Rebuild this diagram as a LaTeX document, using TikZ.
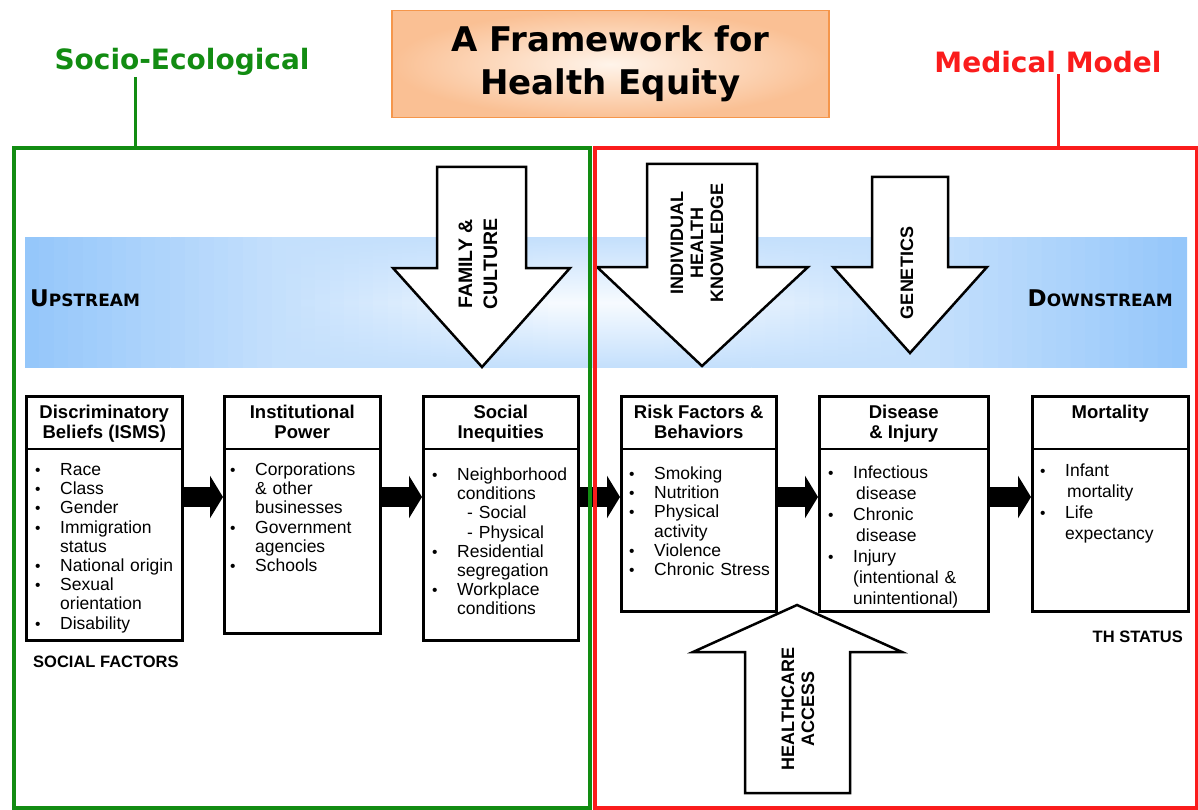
\documentclass[tikz,border=0pt]{standalone}
\usepackage{fontspec}
\setmainfont{Liberation Sans}
\newfontfamily\wideface{DejaVu Sans}
\usetikzlibrary{arrows.meta}

\definecolor{segreen}{RGB}{18,140,18}
\definecolor{mmred}{RGB}{250,28,28}
\definecolor{bandedge}{RGB}{148,198,250}
\definecolor{titleedge}{RGB}{250,192,148}
\definecolor{titlemid}{RGB}{255,244,234}
\definecolor{titleline}{RGB}{245,150,75}

% one bullet item in a box
\newcommand\itm{\par\noindent\hangindent=25pt\hangafter=1%
  \makebox[25pt][l]{\fontsize{15.5}{15}\selectfont\textbullet}}

\tikzset{ box/.style = { draw
                       , line width   = 2.5pt
                       , anchor       = north west
                       , inner sep    = 0pt
                       },
          head/.style = { anchor    = north
                        , inner sep = 0pt
                        , align     = center
                        , font      = \bfseries\fontsize{18.5}{19.5}\selectfont
                        },
          body/.style = { anchor     = north west
                        , inner sep  = 0pt
                        , text width = #1
                        , align      = left
                        , font       = \fontsize{17.5}{19.2}\selectfont
                        },
          flow/.style = { line width = 20pt
                        , -{Triangle[width=42pt, length=13pt]}
                        },
          bigarrow/.style = { draw
                            , line width = 2.5pt
                            , fill       = white
                            , line join  = miter
                            },
          arrowlbl/.style = { rotate    = 90
                            , inner sep = 0pt
                            , align     = center
                            , font      = \bfseries\fontsize{18}{20}\selectfont
                            },
          modellbl/.style = { inner sep = 1pt
                            , font      = \wideface\bfseries\fontsize{28}{30}\selectfont
                            },
          streamlbl/.style = { inner sep = 0pt
                             , font      = \wideface\bfseries
                             },
          frame/.style = { line width   = 4pt
                         , anchor       = north west
                         , inner sep    = 0pt
                         }
        }

\begin{document}
\begin{tikzpicture}[x=1pt, y=-1pt]
\useasboundingbox (0,0) rectangle (1198,810);

% title
\node[draw=titleline, line width=1.5pt, inner color=titlemid, outer color=titleedge,
      minimum width=437pt, minimum height=107pt, anchor=north west, align=center,
      font=\wideface\bfseries\fontsize{34}{43}\selectfont] (title) at (391,10)
      {A Framework for\\Health Equity};

\node[modellbl, text=segreen] (socio) at (182,62) {Socio-Ecological};
\node[modellbl, text=mmred] (medical) at (1048,62) {Medical Model};

% upstream / downstream band, blue at both ends and along its edges
\foreach \i in {0,...,79} {
  \pgfmathsetmacro\xa{25+\i*14.525}
  \pgfmathsetmacro\h{max(8,min(100,100*(abs(\xa+7-606)/580)^1.05))}
  \pgfmathsetmacro\e{max(\h,55)}
  \shade[top color=bandedge!\e!white, bottom color=bandedge!\e!white,
         middle color=bandedge!\h!white] (\xa,238) rectangle ({min(\xa+15,1187)},367);
}
\node[streamlbl, anchor=base west] (upstream) at (30,306)
     {\fontsize{23}{23}\selectfont U\fontsize{17}{17}\selectfont PSTREAM};
\node[streamlbl, anchor=base east] (downstream) at (1173,306)
     {\fontsize{23}{23}\selectfont D\fontsize{17}{17}\selectfont OWNSTREAM};

% big white arrows
\draw[bigarrow] (437,167) -- (526,167) -- (526,268) -- (570,268) -- (482,367)
                -- (393,268) -- (437,268) -- cycle;
\node[arrowlbl, font=\bfseries\fontsize{19.5}{25}\selectfont] (family) at (478,264)
     {FAMILY \&\\CULTURE};
\draw[bigarrow] (647,164) -- (757,164) -- (757,267) -- (808,267) -- (702,366)
                -- (597,267) -- (647,267) -- cycle;
\node[arrowlbl] (knowledge) at (697,243) {INDIVIDUAL\\HEALTH\\KNOWLEDGE};
\draw[bigarrow] (872,177) -- (948,177) -- (948,267) -- (987,267) -- (910,353)
                -- (833,267) -- (872,267) -- cycle;
\node[arrowlbl] (genetics) at (907,273) {GENETICS};
\draw[bigarrow] (745,793) -- (850,793) -- (850,652) -- (902,652) -- (797,605)
                -- (693,652) -- (745,652) -- cycle;
\node[arrowlbl] (access) at (798,709) {HEALTHCARE\\ACCESS};

% the six boxes
\node[box, minimum width=156pt, minimum height=244pt] (isms) at (25,395) {};
\node[box, minimum width=156pt, minimum height=237pt] (power) at (223,395) {};
\node[box, minimum width=155pt, minimum height=244pt] (inequity) at (422,395) {};
\node[box, minimum width=155pt, minimum height=215pt] (risk) at (620,395) {};
\node[box, minimum width=169pt, minimum height=215pt] (disease) at (818,395) {};
\node[box, minimum width=156pt, minimum height=215pt] (mortality) at (1031,395) {};

\foreach \b in {isms, power, inequity, risk, disease, mortality}
  \draw[line width=1.2pt] (\b.west |- 0,449) -- (\b.east |- 0,449);

\node[head] at ([shift={(0,10)}]isms.north) {Discriminatory\\Beliefs (ISMS)};
\node[head] at ([shift={(0,10)}]power.north) {Institutional\\Power};
\node[head] at ([shift={(0,10)}]inequity.north) {Social\\Inequities};
\node[head] at ([shift={(0,10)}]risk.north) {Risk Factors \&\\Behaviors};
\node[head] at ([shift={(0,10)}]disease.north) {Disease\\\& Injury};
\node[head] at ([shift={(0,10)}]mortality.north) {Mortality};

\node[body=144pt] at ([shift={(10,61)}]isms.north west)
  {\itm Race \itm Class \itm Gender \itm Immigration\newline status
   \itm National origin \itm Sexual\newline orientation \itm Disability\par};
\node[body=147pt] at ([shift={(7,61)}]power.north west)
  {\itm Corporations\newline \& other\newline businesses
   \itm Government\newline agencies \itm Schools\par};
\node[body=150pt] at ([shift={(10,66)}]inequity.north west)
  {\itm Neighborhood\newline conditions\newline \hspace*{10pt}- Social\newline
   \hspace*{10pt}- Physical \itm Residential\newline segregation
   \itm Workplace\newline conditions\par};
\node[body=144pt] at ([shift={(9,65)}]risk.north west)
  {\itm Smoking \itm Nutrition \itm Physical\newline activity \itm Violence
   \itm Chronic Stress\par};
\node[body=157pt, font=\fontsize{17.5}{21}\selectfont] at ([shift={(10,62)}]disease.north west)
  {\itm Infectious\newline \hspace*{3pt}disease \itm Chronic\newline \hspace*{3pt}disease
   \itm Injury\newline (intentional \&\newline unintentional)\par};
\node[body=145pt, font=\fontsize{17.5}{21}\selectfont] at ([shift={(9,60)}]mortality.north west)
  {\itm Infant\newline \hspace*{2pt}mortality \itm Life\newline expectancy\par};

\node[anchor=west, inner sep=0pt, font=\bfseries\fontsize{16.5}{17}\selectfont]
     (social) at (33,662) {SOCIAL FACTORS};
\node[anchor=east, inner sep=0pt, font=\bfseries\fontsize{16.5}{17}\selectfont]
     (status) at (1183,637) {TH STATUS};

% black arrows between the boxes
\coordinate (flowrow) at (0,497);
\draw[flow] (isms.east |- flowrow) -- (power.west |- flowrow);
\draw[flow] (power.east |- flowrow) -- (inequity.west |- flowrow);
\draw[flow] (inequity.east |- flowrow) -- (risk.west |- flowrow);
\draw[flow] (risk.east |- flowrow) -- (disease.west |- flowrow);
\draw[flow] (disease.east |- flowrow) -- (mortality.west |- flowrow);

% the two model frames
\node[frame, draw=segreen, minimum width=576pt, minimum height=660pt] (socioframe) at (12,146) {};
\node[frame, draw=mmred, minimum width=602pt, minimum height=660pt] (medframe) at (593,146) {};
\coordinate (sociostem) at (135,0);
\coordinate (medstem) at (1058,0);
\draw[segreen, line width=3pt] (sociostem |- socio.south) -- (sociostem |- socioframe.north);
\draw[mmred, line width=3pt] (medstem |- medical.south) -- (medstem |- medframe.north);
\end{tikzpicture}
\end{document}
